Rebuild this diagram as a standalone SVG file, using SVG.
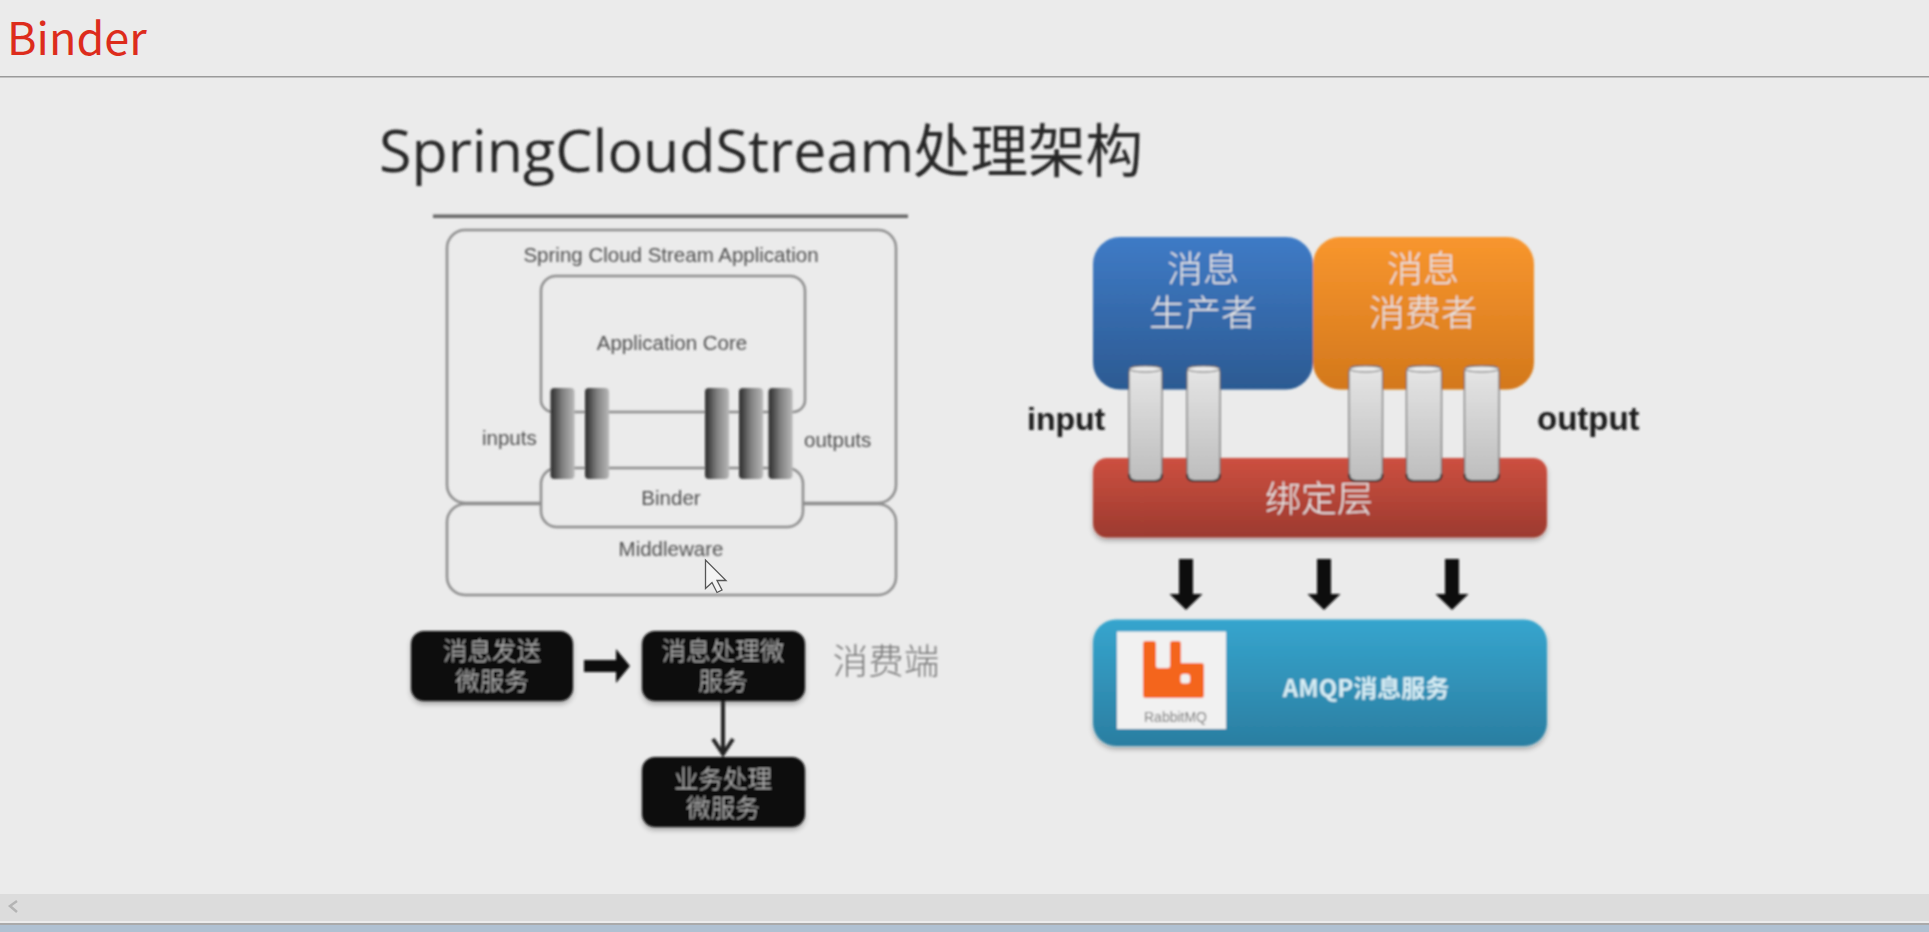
<svg xmlns="http://www.w3.org/2000/svg" width="1929" height="932" viewBox="0 0 1929 932">
<style>
.sa{font-family:"Liberation Sans",Arial,sans-serif}
.cj{font-family:"Noto Sans CJK SC","Noto Sans",sans-serif}
.line{fill:none;stroke:#8d8d8d;stroke-width:2.5}
.lab{font-size:20.500px;fill:#505050;text-anchor:middle}
.big{font-size:36px;fill:#e6e6e6;text-anchor:middle;font-weight:300}
.blk{fill:#0e0e0e}
.blt{font-size:24.500px;fill:#bdbdbd;text-anchor:middle;font-weight:300}
.cy{fill:url(#cyl);stroke:#666;stroke-width:1.200}
.cyb{fill:none;stroke:#333;stroke-width:2.200}
.cyt{fill:#ececec;stroke:#666;stroke-width:1}
.dc{fill:url(#dark)}
</style>
<defs>
<filter id="b" x="-5%" y="-5%" width="110%" height="110%"><feGaussianBlur stdDeviation="1.050"/></filter>
<filter id="s" x="-10%" y="-10%" width="120%" height="130%"><feDropShadow dx="0" dy="3" stdDeviation="2.500" flood-color="#000" flood-opacity="0.3"/></filter>
<linearGradient id="gb" x1="0" y1="0" x2="0" y2="1"><stop offset="0" stop-color="#3f7bc6"/><stop offset="1" stop-color="#2c5a92"/></linearGradient>
<linearGradient id="go" x1="0" y1="0" x2="0" y2="1"><stop offset="0" stop-color="#f8962e"/><stop offset="1" stop-color="#d3781c"/></linearGradient>
<linearGradient id="gr" x1="0" y1="0" x2="0" y2="1"><stop offset="0" stop-color="#cd5040"/><stop offset="1" stop-color="#9c3a2f"/></linearGradient>
<linearGradient id="gt" x1="0" y1="0" x2="0" y2="1"><stop offset="0" stop-color="#36a5ce"/><stop offset="1" stop-color="#2b7ea1"/></linearGradient>
<linearGradient id="cyl" x1="0" y1="0" x2="0" y2="1"><stop offset="0" stop-color="#e6e6e6"/><stop offset="1" stop-color="#bdbdbd"/></linearGradient>
<linearGradient id="dark" x1="0" y1="0" x2="1" y2="0"><stop offset="0" stop-color="#2a2a2a"/><stop offset="0.5" stop-color="#808080"/><stop offset="1" stop-color="#b8b8b8"/></linearGradient>
</defs>
<rect width="1929" height="932" fill="#ebebeb"/>
<g id="header">
<text x="7" y="55" class="cj" font-size="45" fill="#dd2c1c">Binder</text>
<rect x="0" y="76" width="1929" height="1.500" fill="#9a9a9a"/>
</g>
<g filter="url(#b)">
<g id="title">
<text x="379" y="172" font-family="'Open Sans','Noto Sans',sans-serif" font-size="59.200" fill="#262626">SpringCloudStream<tspan x="913" class="cj" font-size="57.500">处理架构</tspan></text>
<rect x="433" y="214.500" width="475" height="3.500" fill="#666"/>
</g>
<g id="app-box">
<path class="line" d="M465 230H878a18 18 0 0 1 18 18V485a18 18 0 0 1-18 18H803M540 503H465a18 18 0 0 1-18-18V248a18 18 0 0 1 18-18"/>
<text x="671" y="262" class="sa lab">Spring Cloud Stream Application</text>
<text x="482" y="445" class="sa lab" style="text-anchor:start">inputs</text>
<text x="804" y="447" class="sa lab" style="text-anchor:start">outputs</text>
</g>
<g id="middleware">
<path class="line" d="M540 504H465a18 18 0 0 0-18 18v55a18 18 0 0 0 18 18h413a18 18 0 0 0 18-18v-55a18 18 0 0 0-18-18H803"/>
<text x="671" y="556" class="sa lab">Middleware</text>
</g>
<g id="core">
<path class="line" d="M553 412a12 12 0 0 1-12-12V291a15 15 0 0 1 15-15h234a15 15 0 0 1 15 15v109a12 12 0 0 1-12 12z"/>
<text x="672" y="350" class="sa lab">Application Core</text>
</g>
<g id="binder">
<path class="line" d="M557 468h230a16 16 0 0 1 16 16v27a16 16 0 0 1-16 16H557a16 16 0 0 1-16-16v-27a16 16 0 0 1 16-16z"/>
<text x="671" y="505" class="sa lab">Binder</text>
</g>
<g id="channels-left">
<rect class="dc" x="550.500" y="388" width="24" height="91" rx="4"/>
<rect class="dc" x="585" y="388" width="24" height="91" rx="4"/>
<rect class="dc" x="705" y="388" width="24" height="91" rx="4"/>
<rect class="dc" x="739" y="388" width="24" height="91" rx="4"/>
<rect class="dc" x="768.500" y="388" width="24" height="91" rx="4"/>
</g>
<g id="node-send" filter="url(#s)">
<rect class="blk" x="411" y="631" width="162" height="70" rx="13"/>
<text x="492" y="660" class="cj blt">消息发送</text>
<text x="492" y="690" class="cj blt">微服务</text>
</g>
<g id="node-process" filter="url(#s)">
<rect class="blk" x="642" y="631" width="163" height="70" rx="13"/>
<text x="723" y="660" class="cj blt">消息处理微</text>
<text x="723" y="690" class="cj blt">服务</text>
</g>
<g id="node-business" filter="url(#s)">
<rect class="blk" x="642" y="757" width="163" height="70" rx="13"/>
<text x="723" y="788" class="cj blt">业务处理</text>
<text x="723" y="817" class="cj blt">微服务</text>
</g>
<text id="label-consumer" x="886" y="674" class="cj" font-size="35.500" fill="#777" text-anchor="middle" font-weight="300">消费端</text>
<g id="node-producer">
<rect x="1093" y="237" width="220" height="152.500" rx="27" fill="url(#gb)"/>
<text x="1203" y="282" class="cj big">消息</text>
<text x="1203" y="326" class="cj big">生产者</text>
</g>
<g id="node-consumer">
<rect x="1313" y="237" width="221" height="152.500" rx="27" fill="url(#go)"/>
<text x="1423" y="282" class="cj big">消息</text>
<text x="1423" y="326" class="cj big">消费者</text>
</g>
<g id="node-binding" filter="url(#s)">
<rect x="1093" y="458" width="454" height="79.500" rx="14" fill="url(#gr)"/>
<text x="1319" y="512" class="cj big">绑定层</text>
</g>
<g id="cylinders">
<g id="cyl-1"><rect class="cy" x="1129" y="366" width="33" height="115" rx="6"/><path class="cyb" d="M1129 474q0 7 7 7h19q7 0 7-7"/><ellipse class="cyt" cx="1145.500" cy="369" rx="16" ry="3"/></g>
<g id="cyl-2"><rect class="cy" x="1187" y="366" width="33" height="115" rx="6"/><path class="cyb" d="M1187 474q0 7 7 7h19q7 0 7-7"/><ellipse class="cyt" cx="1203.500" cy="369" rx="16" ry="3"/></g>
<g id="cyl-3"><rect class="cy" x="1349" y="366" width="33.500" height="115" rx="6"/><path class="cyb" d="M1349 474q0 7 7 7h19.500q7 0 7-7"/><ellipse class="cyt" cx="1365.700" cy="369" rx="16" ry="3"/></g>
<g id="cyl-4"><rect class="cy" x="1406.500" y="366" width="35" height="115" rx="6"/><path class="cyb" d="M1406.500 474q0 7 7 7h21q7 0 7-7"/><ellipse class="cyt" cx="1424" cy="369" rx="17" ry="3"/></g>
<g id="cyl-5"><rect class="cy" x="1464.500" y="366" width="34.500" height="115" rx="6"/><path class="cyb" d="M1464.500 474q0 7 7 7h20.500q7 0 7-7"/><ellipse class="cyt" cx="1481.700" cy="369" rx="17" ry="3"/></g>
</g>
<text id="label-input" x="1027" y="430" class="sa" font-size="32" font-weight="700" fill="#1a1a1a">input</text>
<text id="label-output" x="1537" y="430" class="sa" font-size="33" font-weight="700" fill="#1a1a1a">output</text>
<g id="node-amqp" filter="url(#s)">
<rect x="1093" y="619.500" width="454" height="126.500" rx="23" fill="url(#gt)"/>
<rect x="1117" y="631.500" width="109" height="97.500" fill="#f1f1f1"/>
<path d="M1143 644a3 3 0 0 1 3-3h7a3 3 0 0 1 3 3v22a2 2 0 0 0 2 2h10a2 2 0 0 0 2-2v-22a3 3 0 0 1 3-3h5a3 3 0 0 1 3 3v19h20a3 3 0 0 1 3 3v29a3 3 0 0 1-3 3h-55a3 3 0 0 1-3-3z" fill="#f4651b"/>
<rect x="1180.500" y="674" width="9.500" height="9.500" rx="3" fill="#f1f1f1"/>
<text x="1175.500" y="722" class="sa" font-size="14" fill="#777" text-anchor="middle">RabbitMQ</text>
<text x="1366" y="697" class="cj" font-size="24" font-weight="700" fill="#d7edf4" text-anchor="middle">AMQP消息服务</text>
</g>
<g id="connectors">
<path d="M1179 559h14v35h9.500l-16.500 16-16.500-16h9.500zM1317 559h14v35h9.500l-16.500 16-16.500-16h9.500zM1445 559h14v35h9.500l-16.500 16-16.500-16h9.500z" fill="#0e0e0e"/>
<path d="M584 660h32v-11l14 17-14 17v-11h-32z" fill="#0e0e0e"/>
<path d="M723 701v54M713 739l10 15 10-15" fill="none" stroke="#222" stroke-width="4"/>
</g>
</g>
<path id="cursor" d="M705.500 560v28.500l6.500-6 5 10 5-2.500-5-9.500 9 0z" fill="#f4f4f4" stroke="#555" stroke-width="1.300"/>
<g id="scrollbar">
<rect x="0" y="894" width="1929" height="27" fill="#dcdcdc"/>
<rect x="0" y="921" width="1929" height="2" fill="#ececec"/>
<rect x="0" y="923" width="1929" height="2" fill="#aaaaaa"/>
<rect x="0" y="925" width="1929" height="7" fill="#b0c1d2"/>
<path d="M17 901l-7 5 7 6" fill="none" stroke="#b4b4b4" stroke-width="2.500"/>
</g>
</svg>
